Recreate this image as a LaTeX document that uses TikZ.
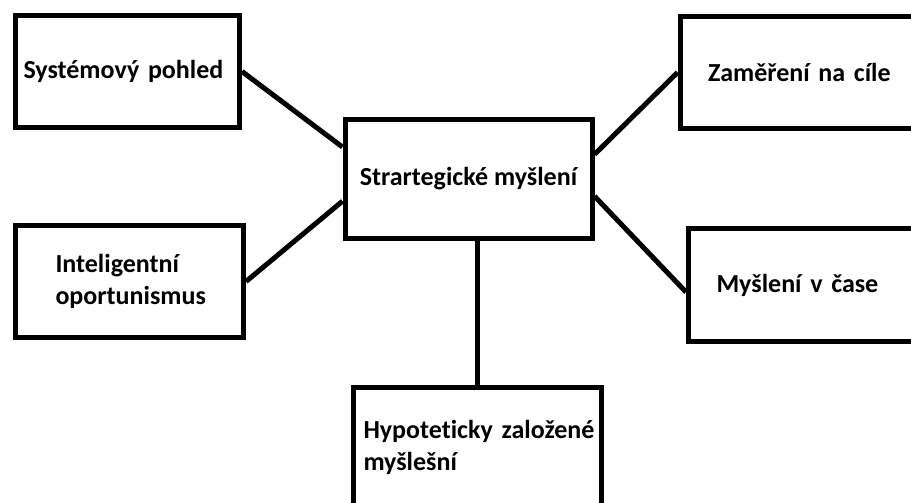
\documentclass[tikz,border=0pt]{standalone}
\usepackage{fontspec}
\setmainfont{Carlito}[Ligatures=NoCommon]
\usepackage{tikz}
\usetikzlibrary{calc}
\tikzset{
  mapbox/.style  = {rectangle, draw=black, line width=0.1cm, fill=white,
                    align=left, font=\fontsize{14.8pt}{18.2pt}\selectfont\bfseries,
                    inner ysep=0pt, minimum height=2.24cm},
  maplink/.style = {draw=black, line width=0.1cm},
}

\begin{document}
\begin{tikzpicture}
  \clip (0,0) rectangle (18.22,10.04);

  \node[mapbox, text width=4.16cm, inner xsep=0.16cm] (sys) at (2.55,8.61) {Systémový pohled};
  \node[mapbox, align=center, minimum width=4.94cm, minimum height=2.36cm] (str) at (9.37,6.46) {Strartegické myšlení};
  \node[mapbox, text width=3.88cm, inner xsep=0.56cm] (zam) at (16.1,8.59) {Zaměření na cíle};
  \node[mapbox, text width=2.96cm, inner xsep=0.8cm] (int) at (2.59,4.41) {Inteligentní\\oportunismus};
  \node[mapbox, text width=3.88cm, inner xsep=0.56cm, minimum height=2.26cm] (mys) at (16.27,4.34) {Myšlení v čase};
  \node[mapbox, text width=4.56cm, inner xsep=0.2cm, minimum height=2.4cm] (hyp) at (9.55,1.09) {\mbox{Hypoteticky založené}\\myšlešní};

  % spokes into the centre box
  \draw[maplink] (sys.east) -- ($(str.north west)!0.24!(str.south west)$);
  \draw[maplink] (int.east) -- ($(str.north west)!0.68!(str.south west)$);
  \draw[maplink] (zam.west) -- ($(str.north east)!0.30!(str.south east)$);
  \draw[maplink] ($(mys.north west)!0.56!(mys.south west)$) -- ($(str.north east)!0.64!(str.south east)$);
  \draw[maplink] (hyp.north) -- (hyp.north |- str.south);
\end{tikzpicture}
\end{document}
